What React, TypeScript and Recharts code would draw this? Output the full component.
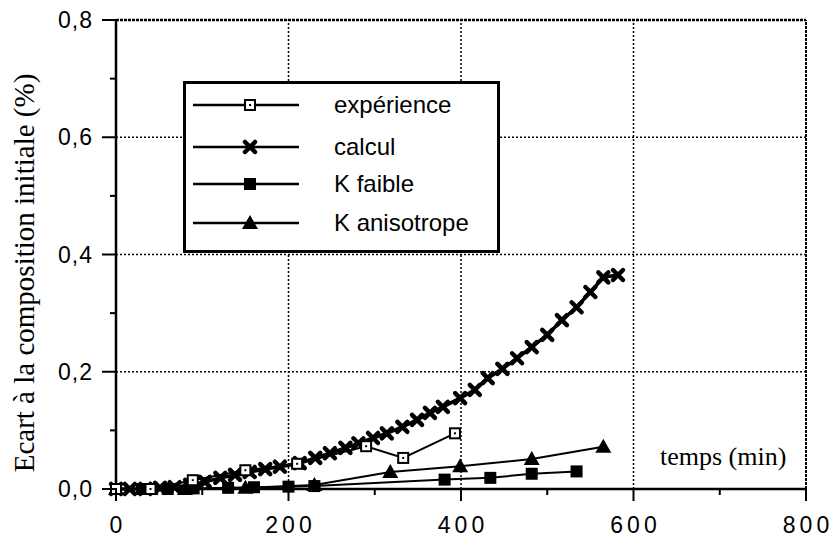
import { LineChart, Line, XAxis, YAxis, ReferenceLine } from "recharts";

// temps (min) / écart (%)
const expTime = [0, 40, 89, 150, 210, 290, 333, 393];
const expVal = [0, 0, 0.015, 0.032, 0.043, 0.073, 0.053, 0.095];

const calcTime = [0, 16, 34, 51, 68, 86, 103, 121, 138, 155, 173, 190, 213, 231, 248, 266, 281, 298, 314, 332, 349, 364, 379, 399, 416, 431, 448, 465, 482, 500, 517, 534, 550, 565, 582];
const calcVal = [0, 0, 0, 0.002, 0.003, 0.007, 0.012, 0.019, 0.024, 0.029, 0.034, 0.038, 0.044, 0.053, 0.061, 0.07, 0.078, 0.087, 0.095, 0.106, 0.118, 0.13, 0.14, 0.155, 0.169, 0.189, 0.205, 0.223, 0.242, 0.263, 0.288, 0.31, 0.336, 0.361, 0.365];

const kfTime = [0, 30, 60, 90, 130, 160, 200, 230, 381, 434, 482, 534];
const kfVal = [0, 0, 0, 0.001, 0.002, 0.003, 0.004, 0.005, 0.016, 0.019, 0.026, 0.03];

const kaTime = [0, 40, 80, 150, 230, 318, 399, 482, 565];
const kaVal = [0, 0, 0, 0.002, 0.007, 0.029, 0.039, 0.051, 0.072];

const xTicks = [0, 100, 200, 300, 400, 500, 600, 700, 800];
const yTicks = [0, 0.1, 0.2, 0.3, 0.4, 0.5, 0.6, 0.7, 0.8];
const xGrid = [200, 400, 600];
const yGrid = [0.2, 0.4, 0.6];

const series = (t: number[], v: number[]) => t.map((tt, i) => ({ t: tt, v: v[i] }));
const expData = series(expTime, expVal);
const calcData = series(calcTime, calcVal);
const kfData = series(kfTime, kfVal);
const kaData = series(kaTime, kaVal);

const SANS = "'Liberation Sans', Arial, sans-serif";
const SERIF = "'Liberation Serif', 'Times New Roman', serif";

const OpenSquare = ({ cx, cy }: any) => (
  <g>
    <rect x={cx - 5} y={cy - 5} width={10} height={10} fill="#fff" stroke="#000" strokeWidth={2} />
    <rect x={cx - 1} y={cy - 1} width={2} height={2} fill="#000" />
  </g>
);
const Cross = ({ cx, cy }: any) => (
  <path d={`M${cx - 5},${cy - 5}L${cx + 5},${cy + 5}M${cx - 5},${cy + 5}L${cx + 5},${cy - 5}`} stroke="#000" strokeWidth={4.5} strokeLinecap="round" />
);
const FilledSquare = ({ cx, cy }: any) => <rect x={cx - 6} y={cy - 6} width={12} height={12} fill="#000" />;
const Triangle = ({ cx, cy }: any) => (
  <path d={`M${cx},${cy - 8}L${cx + 8},${cy + 6}L${cx - 8},${cy + 6}Z`} fill="#000" />
);

const dotOf = (C: any) => (p: any) => <C key={`d${p.index}`} cx={p.cx} cy={p.cy} />;

const XTick = ({ x, y, payload }: any) => {
  const major = payload.value % 200 === 0;
  return (
    <g>
      <line x1={x} x2={x} y1={y} y2={y + (major ? 12 : 6)} stroke="#000" strokeWidth={2} />
      {major && (
        <text x={x + 2} y={y + 44} textAnchor="middle" fontFamily={SANS} fontSize={23} letterSpacing={4} fill="#000">
          {payload.value}
        </text>
      )}
    </g>
  );
};

const YTick = ({ x, y, payload }: any) => {
  const major = Math.round(payload.value * 10) % 2 === 0;
  return (
    <g>
      <line x1={x} x2={x - (major ? 14 : 6)} y1={y} y2={y} stroke="#000" strokeWidth={2} />
      {major && (
        <text x={x - 23} y={y + 8} textAnchor="end" fontFamily={SANS} fontSize={23} letterSpacing={1} fill="#000">
          {payload.value.toFixed(1).replace(".", ",")}
        </text>
      )}
    </g>
  );
};

const legendRows = [
  { name: "expérience", C: OpenSquare, y: 24 },
  { name: "calcul", C: Cross, y: 66 },
  { name: "K faible", C: FilledSquare, y: 103 },
  { name: "K anisotrope", C: Triangle, y: 142 },
];

export default function App() {
  return (
    <div style={{ position: "absolute", left: 0, top: 0, width: 836, height: 537, background: "#fff" }}>
      <LineChart width={836} height={537} margin={{ top: 20, right: 30, bottom: 0, left: 0 }}>
        <XAxis dataKey="t" type="number" domain={[0, 800]} ticks={xTicks} interval={0} height={48}
          tick={<XTick />} tickLine={false} tickSize={0} tickMargin={0} axisLine={{ stroke: "#000", strokeWidth: 2.5 }} />
        <YAxis type="number" domain={[0, 0.8]} ticks={yTicks} interval={0} width={116}
          tick={<YTick />} tickLine={false} tickSize={0} tickMargin={0} axisLine={{ stroke: "#000", strokeWidth: 2.5 }} />
        {xGrid.map((v) => (
          <ReferenceLine key={`gx${v}`} x={v} stroke="#000" strokeWidth={1.5} strokeDasharray="2 2" />
        ))}
        {yGrid.map((v) => (
          <ReferenceLine key={`gy${v}`} y={v} stroke="#000" strokeWidth={1.5} strokeDasharray="2 2" />
        ))}
        <ReferenceLine y={0.8} stroke="#000" strokeWidth={2.5} strokeDasharray="3 1" />
        <ReferenceLine x={800} stroke="#000" strokeWidth={2} strokeDasharray="3 1" />
        <Line data={kfData} dataKey="v" type="linear" stroke="#000" strokeWidth={2} dot={dotOf(FilledSquare)} isAnimationActive={false} />
        <Line data={kaData} dataKey="v" type="linear" stroke="#000" strokeWidth={2} dot={dotOf(Triangle)} isAnimationActive={false} />
        <Line data={calcData} dataKey="v" type="linear" stroke="#000" strokeWidth={3.5} dot={dotOf(Cross)} isAnimationActive={false} />
        <Line data={expData} dataKey="v" type="linear" stroke="#000" strokeWidth={2} dot={dotOf(OpenSquare)} isAnimationActive={false} />
      </LineChart>

      <svg width={317} height={172} style={{ position: "absolute", left: 183, top: 81 }}>
        <rect x={1.5} y={1.5} width={314} height={169} fill="#fff" stroke="#000" strokeWidth={3} />
        {legendRows.map((r) => (
          <g key={r.name}>
            <line x1={10} x2={116} y1={r.y} y2={r.y} stroke="#000" strokeWidth={2.5} />
            <r.C cx={67} cy={r.y} />
            <text x={151} y={r.y + 8} fontFamily={SANS} fontSize={24} fill="#000">{r.name}</text>
          </g>
        ))}
      </svg>

      <div style={{ position: "absolute", left: 660, top: 442, fontFamily: SERIF, fontSize: 26, lineHeight: "30px", whiteSpace: "nowrap" }}>
        temps (min)
      </div>
      <div style={{ position: "absolute", left: 24, top: 273, transform: "translate(-50%, -50%) rotate(-90deg)", fontFamily: SERIF, fontSize: 29, lineHeight: "32px", whiteSpace: "nowrap" }}>
        Ecart à la composition initiale (%)
      </div>
    </div>
  );
}
